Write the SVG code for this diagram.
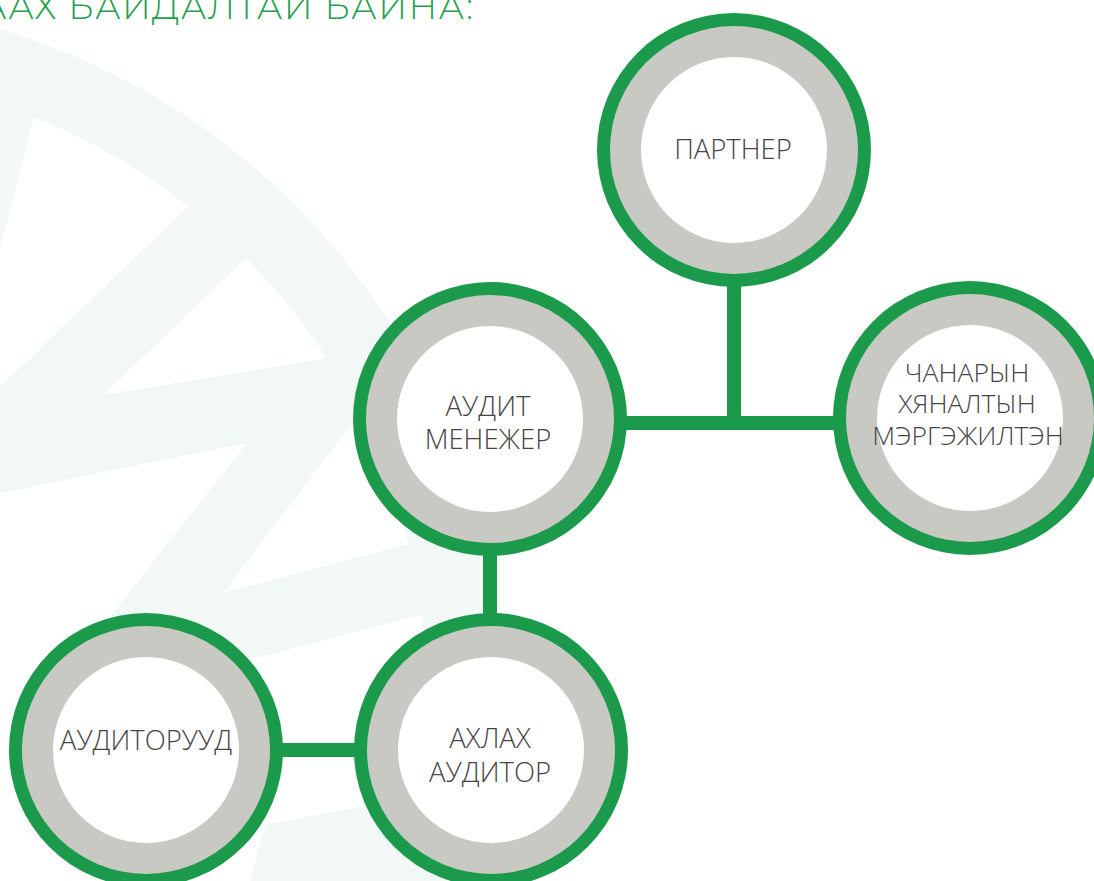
<svg xmlns="http://www.w3.org/2000/svg" width="1094" height="881" viewBox="0 0 1094 881">
  <defs>
    <style>
      .wm { fill: #f2f8f5; }
      .ring-g { fill: #1c9a4b; }
      .ring-s { fill: #c8c9c3; }
      .core { fill: #ffffff; }
      .lbl { font-family: "Open Sans", "Liberation Sans", sans-serif; font-weight: 300; font-size: 27.5px; fill: #454545; text-anchor: middle; }
      .title { font-family: "Montserrat", "Open Sans", "Liberation Sans", sans-serif; font-weight: 300; font-size: 35px; fill: #22a04e; }
      .conn { stroke: #1c9a4b; stroke-width: 14; fill: none; }
    </style>
  </defs>
  <rect width="1094" height="881" fill="#ffffff"/>

  <!-- background watermark -->
  <g id="watermark">
    <circle cx="-200" cy="700" r="664" fill="none" stroke="#f2f8f5" stroke-width="72"/>
    <polygon class="wm" points="0,100 45,95 33,120 0,250"/>
    <polygon class="wm" points="190,205 250,250 247,257 0,494 0,387"/>
    <polygon class="wm" points="0,412 328,358 410,340 420,350 347,430 223,593 413,543 440,540 440,600 427,613 260,657 79,657 110,617 247,443 0,493"/>
    <polygon class="wm" points="250,881 265,825 445,790 445,881"/>
  </g>

  <text class="title" x="-19" y="19" textLength="492" lengthAdjust="spacing">ААХ БАЙДАЛТАЙ БАЙНА:</text>

  <g id="connectors">
    <line class="conn" x1="734" y1="280" x2="734" y2="423"/>
    <line class="conn" x1="615" y1="423" x2="845" y2="423"/>
    <line class="conn" x1="490" y1="545" x2="490" y2="625"/>
    <line class="conn" x1="275" y1="750" x2="362" y2="750"/>
  </g>

  <g id="node-partner">
    <circle class="ring-g" cx="734" cy="150" r="137"/>
    <circle class="ring-s" cx="734" cy="150" r="124"/>
    <circle class="core" cx="734" cy="150" r="93"/>
    <text class="lbl" x="733" y="159">ПАРТНЕР</text>
  </g>

  <g id="node-manager">
    <circle class="ring-g" cx="490" cy="419" r="137"/>
    <circle class="ring-s" cx="490" cy="419" r="124"/>
    <circle class="core" cx="490" cy="419" r="93"/>
    <text class="lbl" x="488" y="416">АУДИТ</text>
    <text class="lbl" x="488" y="449">МЕНЕЖЕР</text>
  </g>

  <g id="node-quality">
    <circle class="ring-g" cx="970" cy="418" r="137"/>
    <circle class="ring-s" cx="970" cy="418" r="124"/>
    <circle class="core" cx="970" cy="418" r="93"/>
    <text class="lbl" x="967" y="382" style="font-size:26.5px">ЧАНАРЫН</text>
    <text class="lbl" x="967" y="413" style="font-size:26.5px">ХЯНАЛТЫН</text>
    <text class="lbl" x="968" y="445" style="font-size:26.5px">МЭРГЭЖИЛТЭН</text>
  </g>

  <g id="node-senior">
    <circle class="ring-g" cx="491" cy="750" r="137"/>
    <circle class="ring-s" cx="491" cy="750" r="124"/>
    <circle class="core" cx="491" cy="750" r="93"/>
    <text class="lbl" x="490" y="748">АХЛАХ</text>
    <text class="lbl" x="490" y="782">АУДИТОР</text>
  </g>

  <g id="node-auditors">
    <circle class="ring-g" cx="146" cy="750" r="137"/>
    <circle class="ring-s" cx="146" cy="750" r="124"/>
    <circle class="core" cx="146" cy="750" r="93"/>
    <text class="lbl" x="146" y="750">АУДИТОРУУД</text>
  </g>
</svg>
